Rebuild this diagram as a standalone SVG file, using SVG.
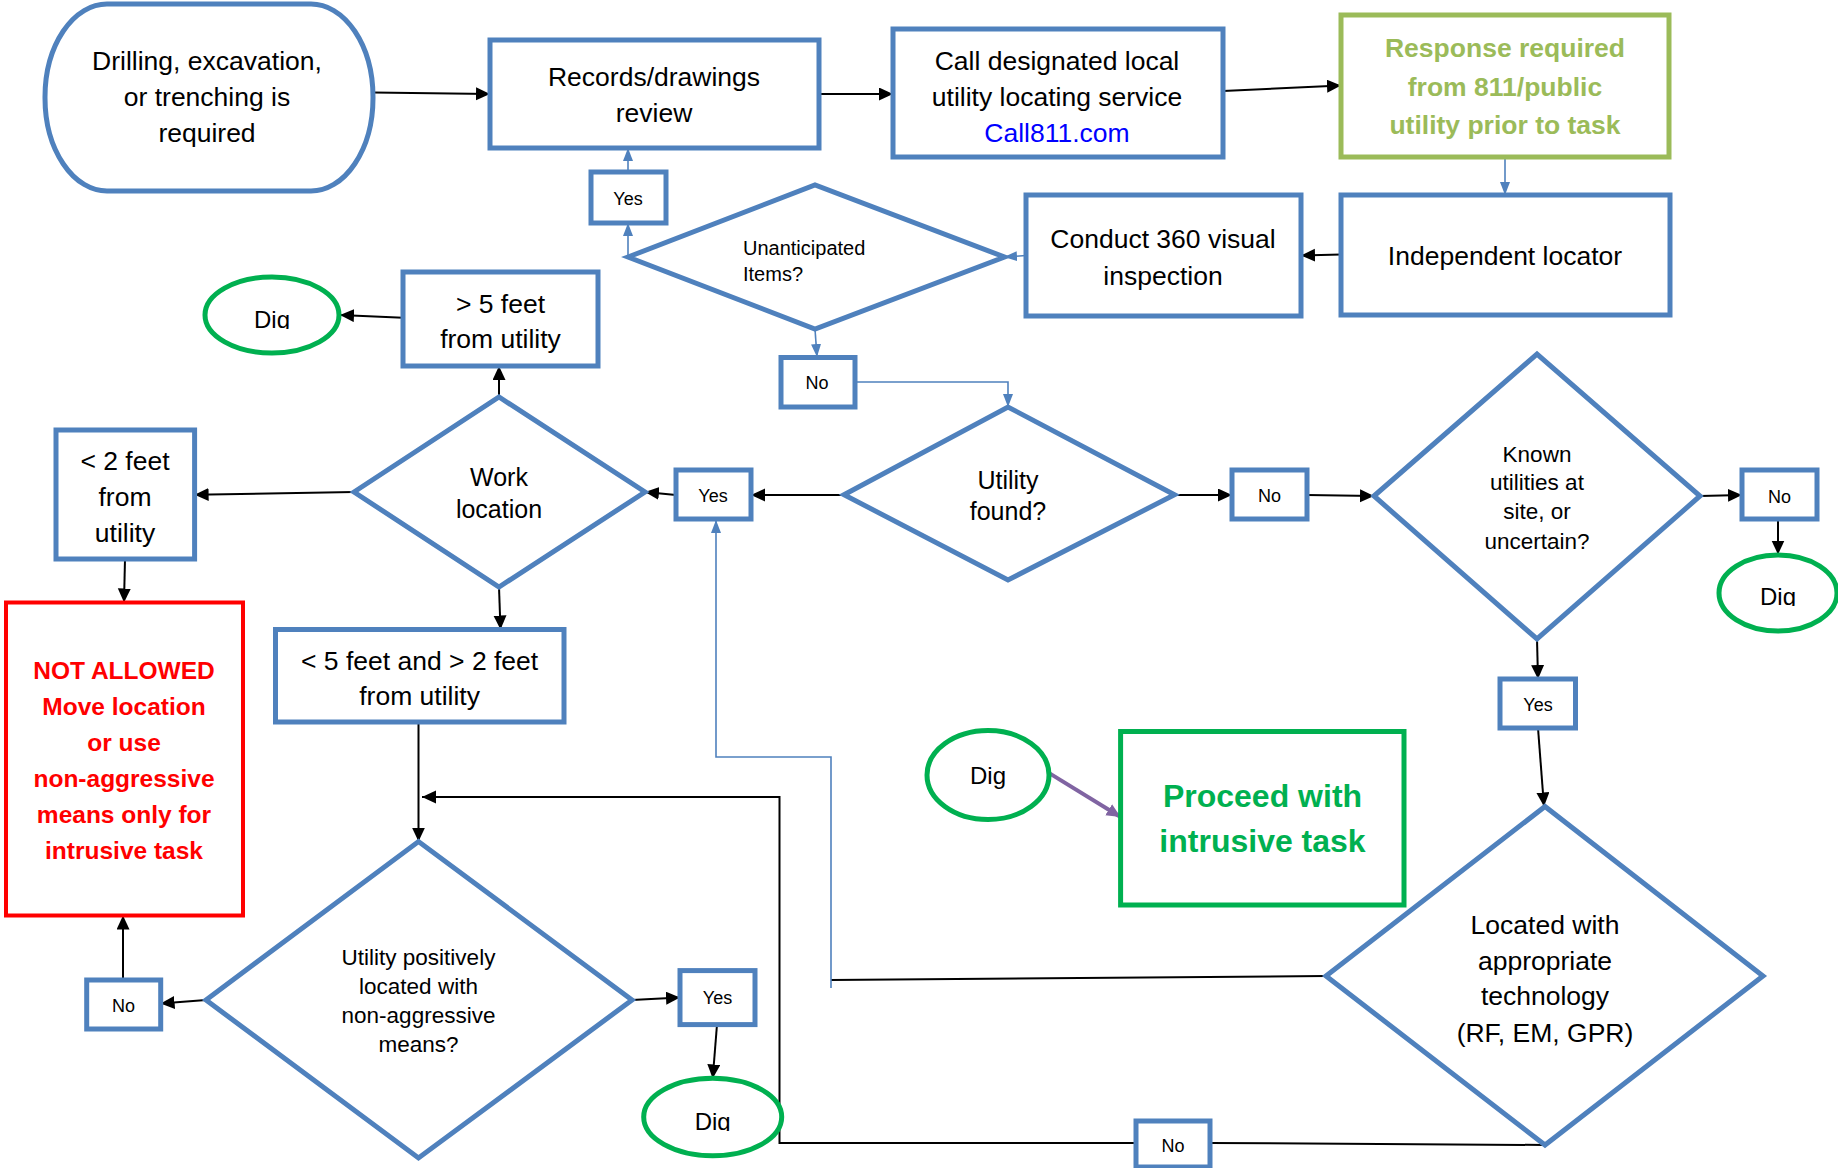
<svg xmlns="http://www.w3.org/2000/svg" width="1838" height="1168" viewBox="0 0 1838 1168">
<style>
.n{fill:#fff;stroke:#4F81BD;stroke-width:5}
.g{fill:#fff;stroke:#00B050;stroke-width:5}
.t{font-family:"Liberation Sans",Arial,sans-serif;font-size:26.5px;fill:#000;text-anchor:middle}
.s{font-size:18px}
.d{font-size:22.5px}
.c{stroke:#000;stroke-width:2;fill:none;marker-end:url(#ak)}
.b{stroke:#4F81BD;stroke-width:1.6;fill:none;marker-end:url(#ab)}
</style>
<defs>
<marker id="ak" markerUnits="userSpaceOnUse" markerWidth="16" markerHeight="14" refX="14" refY="6.5" orient="auto"><path d="M0,0 L14,6.5 L0,13 z" fill="#000"/></marker>
<marker id="ab" markerUnits="userSpaceOnUse" markerWidth="14" markerHeight="12" refX="13" refY="5" orient="auto"><path d="M0,0 L13,5 L0,10 z" fill="#4F81BD"/></marker>
<marker id="ap" markerUnits="userSpaceOnUse" markerWidth="16" markerHeight="14" refX="14" refY="6.5" orient="auto"><path d="M0,0 L14,6.5 L0,13 z" fill="#8064A2"/></marker>
<clipPath id="c1"><rect x="200" y="270" width="150" height="59"/></clipPath>
<clipPath id="c2"><rect x="1710" y="550" width="128" height="56"/></clipPath>
<clipPath id="c3"><rect x="640" y="1075" width="150" height="56"/></clipPath>
</defs>
<rect width="1838" height="1168" fill="#fff"/>
<g id="connectors">
<path class="c" d="M373,92.6 L490,94"/>
<path class="c" d="M819,94 L893,94"/>
<path class="c" d="M1223,91 L1341,85.6"/>
<path class="b" d="M1505,157 L1505,195"/>
<path class="c" d="M1341,254.5 L1301,255.5"/>
<path class="b" d="M1026,255.5 L1004,257"/>
<path class="b" d="M628,257 L628,223"/>
<path class="b" d="M628,172 L628,148"/>
<path class="b" d="M815,329 L817,357"/>
<path class="b" d="M855,382 L1008,382 L1008,407"/>
<path class="c" d="M844,495 L751,495"/>
<path class="c" d="M676,495 L645,492"/>
<path class="c" d="M499,397 L499,366"/>
<path class="c" d="M403,317.7 L340,315"/>
<path class="c" d="M354,492 L194.6,494.7"/>
<path class="c" d="M125,559 L124,602.5"/>
<path class="c" d="M499,587 L500.5,629.5"/>
<path class="c" d="M418.5,722 L418.5,841.6"/>
<path class="c" d="M1174.5,495 L1232,495"/>
<path class="c" d="M1307,495 L1374,496"/>
<path class="c" d="M1700,496 L1742,495"/>
<path class="c" d="M1778,519 L1778,554.5"/>
<path class="c" d="M1537,639 L1538,679"/>
<path class="c" d="M1538,728 L1544,806.5"/>
<path d="M1326,976 L831,980" stroke="#000" stroke-width="2" fill="none"/>
<path class="b" d="M831,988 L831,757 L716,757 L716,520"/>
<path d="M1545,1145 L1210,1143" stroke="#000" stroke-width="2" fill="none"/>
<path class="c" d="M1136,1143 L779.5,1143 L779.5,797 L422,797"/>
<path class="c" d="M206,1000 L160.6,1003.5"/>
<path class="c" d="M123,980 L123,915.5"/>
<path class="c" d="M632,1000 L680,997.5"/>
<path class="c" d="M717,1024.5 L712.7,1078.5"/>
<path d="M1050,773.6 L1120.6,817" stroke="#8064A2" stroke-width="4" fill="none" marker-end="url(#ap)"/>
</g>
<g id="start"><rect class="n" x="45" y="4" width="328" height="187" rx="62" ry="93"/>
<text class="t" x="207" y="70">Drilling, excavation,</text><text class="t" x="207" y="106">or trenching is</text><text class="t" x="207" y="142">required</text></g>
<g id="records"><rect class="n" x="490" y="40" width="329" height="108"/>
<text class="t" x="654" y="86">Records/drawings</text><text class="t" x="654" y="121.5">review</text></g>
<g id="call"><rect class="n" x="893" y="29" width="330" height="128"/>
<text class="t" x="1057" y="70">Call designated local</text><text class="t" x="1057" y="106">utility locating service</text><text class="t" x="1057" y="141.5" style="fill:#0000FF">Call811.com</text></g>
<g id="response"><rect x="1341" y="15" width="328" height="142" fill="#fff" stroke="#9BBB59" stroke-width="5"/>
<g class="t" style="fill:#9BBB59;font-weight:bold;font-size:26.5px"><text x="1505" y="57">Response required</text><text x="1505" y="96">from 811/public</text><text x="1505" y="134">utility prior to task</text></g></g>
<g id="independent"><rect class="n" x="1341" y="195" width="329" height="120"/>
<text class="t" x="1505" y="264.5">Independent locator</text></g>
<g id="conduct"><rect class="n" x="1026" y="195" width="275" height="121"/>
<text class="t" x="1163" y="248">Conduct 360 visual</text><text class="t" x="1163" y="284.5">inspection</text></g>
<g id="unanticipated"><polygon class="n" points="628,257 815,185 1004.5,257 815,329"/>
<text class="t" x="743" y="255" style="font-size:20px;text-anchor:start">Unanticipated</text><text class="t" x="743" y="280.5" style="font-size:20px;text-anchor:start">Items?</text></g>
<g id="yes1"><rect class="n" x="591" y="172" width="75" height="51"/><text class="t s" x="628" y="205">Yes</text></g>
<g id="no1"><rect class="n" x="781" y="357.5" width="74" height="49.5"/><text class="t s" x="817" y="389">No</text></g>
<g id="dig1"><ellipse class="g" cx="272" cy="315" rx="67" ry="38"/><text class="t" x="272" y="328" clip-path="url(#c1)" style="font-size:24px">Dig</text></g>
<g id="gt5"><rect class="n" x="403" y="272" width="195" height="94"/>
<text class="t" x="500.5" y="312.5">&gt; 5 feet</text><text class="t" x="500.5" y="348">from utility</text></g>
<g id="work"><polygon class="n" points="354,492 499,397 645,492 499,587"/>
<text class="t" x="499" y="485.5" style="font-size:25px">Work</text><text class="t" x="499" y="517.5" style="font-size:25px">location</text></g>
<g id="lt2"><rect class="n" x="56" y="430" width="138.6" height="129"/>
<text class="t" x="125" y="470">&lt; 2 feet</text><text class="t" x="125" y="506">from</text><text class="t" x="125" y="542">utility</text></g>
<g id="notallowed"><rect x="6" y="602.5" width="237" height="313" fill="#fff" stroke="#FF0000" stroke-width="4"/>
<g class="t" style="fill:#FF0000;font-weight:bold;font-size:24.5px">
<text x="124" y="678.5">NOT ALLOWED</text><text x="124" y="715">Move location</text><text x="124" y="751">or use</text><text x="124" y="786.5">non-aggressive</text><text x="124" y="823">means only for</text><text x="124" y="858.5">intrusive task</text></g></g>
<g id="lt5"><rect class="n" x="275.5" y="629.5" width="288.5" height="92.5"/>
<text class="t" x="419.6" y="669.5">&lt; 5 feet and &gt; 2 feet</text><text class="t" x="419.6" y="704.5">from utility</text></g>
<g id="yes2"><rect class="n" x="676" y="470" width="75" height="49"/><text class="t s" x="713" y="502">Yes</text></g>
<g id="found"><polygon class="n" points="844,494.7 1008,407 1174.5,494.7 1008,580"/>
<text class="t" x="1008" y="488.5" style="font-size:25px">Utility</text><text class="t" x="1008" y="520" style="font-size:25px">found?</text></g>
<g id="no2"><rect class="n" x="1232" y="470" width="75" height="49"/><text class="t s" x="1269.5" y="502">No</text></g>
<g id="known"><polygon class="n" points="1374,496 1537,354 1700,496 1537,639"/>
<text class="t d" x="1537" y="462">Known</text><text class="t d" x="1537" y="490">utilities at</text><text class="t d" x="1537" y="519">site, or</text><text class="t d" x="1537" y="548.5">uncertain?</text></g>
<g id="no3"><rect class="n" x="1742" y="470" width="75" height="49"/><text class="t s" x="1779.5" y="503">No</text></g>
<g id="dig2"><ellipse class="g" cx="1778" cy="593" rx="59" ry="38"/><text class="t" x="1778" y="605" clip-path="url(#c2)" style="font-size:24px">Dig</text></g>
<g id="yes3"><rect class="n" x="1500" y="679" width="75.5" height="49"/><text class="t s" x="1538" y="710.5">Yes</text></g>
<g id="dig3"><ellipse class="g" cx="988" cy="775" rx="61" ry="44.5"/><text class="t" x="988" y="784" style="font-size:24px">Dig</text></g>
<g id="proceed"><rect x="1120.6" y="731.5" width="283.4" height="173.5" fill="#fff" stroke="#00B050" stroke-width="5"/>
<g class="t" style="fill:#00B050;font-weight:bold;font-size:32px"><text x="1262.5" y="806.5">Proceed with</text><text x="1262.5" y="852">intrusive task</text></g></g>
<g id="located"><polygon class="n" points="1326,976 1545,806.5 1763,976 1545,1145"/>
<text class="t" x="1545" y="933.5">Located with</text><text class="t" x="1545" y="969.5">appropriate</text><text class="t" x="1545" y="1004.5">technology</text><text class="t" x="1545" y="1041.5">(RF, EM, GPR)</text></g>
<g id="positively"><polygon class="n" points="206,1000 418.5,841.6 632,1000 418.5,1158"/>
<text class="t d" x="418.5" y="965">Utility positively</text><text class="t d" x="418.5" y="993.5">located with</text><text class="t d" x="418.5" y="1022.5">non-aggressive</text><text class="t d" x="418.5" y="1051.5">means?</text></g>
<g id="no4"><rect class="n" x="86.7" y="980" width="74" height="49"/><text class="t s" x="123.6" y="1012">No</text></g>
<g id="yes4"><rect class="n" x="680" y="970.6" width="75" height="54"/><text class="t s" x="717.5" y="1003.5">Yes</text></g>
<g id="dig4"><ellipse class="g" cx="712.7" cy="1117" rx="69" ry="38.7"/><text class="t" x="712.7" y="1130" clip-path="url(#c3)" style="font-size:24px">Dig</text></g>
<g id="no5"><rect class="n" x="1136" y="1121" width="74" height="46"/><text class="t s" x="1173" y="1152">No</text></g>
</svg>
